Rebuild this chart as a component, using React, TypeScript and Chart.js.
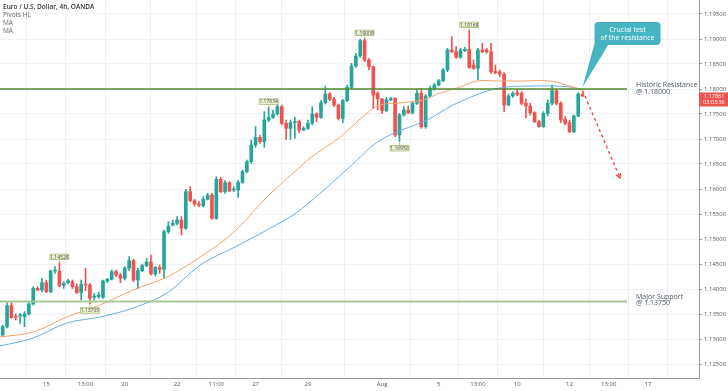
import React, { useEffect, useRef } from 'react';
import { Chart, registerables } from 'chart.js';
Chart.register(...registerables);

const opens = [
  1.1308, 1.13247, 1.13667, 1.13447, 1.1346, 1.13447, 1.135, 1.137, 1.14013, 1.1398,
  1.14127, 1.13947, 1.1436, 1.1436, 1.14073, 1.14127, 1.14147, 1.14047, 1.13927, 1.14093,
  1.1408, 1.13833, 1.13847, 1.13833, 1.1416, 1.14193, 1.14347, 1.1428, 1.14213, 1.14413,
  1.14567, 1.1418, 1.14367, 1.14467, 1.1454, 1.143, 1.14433, 1.14393, 1.15147, 1.1528,
  1.15313, 1.1538, 1.15213, 1.15947, 1.15767, 1.157, 1.15667, 1.15793, 1.1588, 1.15413,
  1.16193, 1.15947, 1.16127, 1.1598, 1.1598, 1.16133, 1.16347, 1.16547, 1.1688, 1.17033,
  1.16947, 1.1738, 1.17433, 1.175, 1.17647, 1.17313,
  1.17213, 1.17327, 1.17347, 1.1718, 1.17213, 1.17313, 1.175, 1.17433, 1.17727, 1.179,
  1.17793, 1.1768, 1.17413, 1.17767, 1.18033, 1.1846, 1.1866, 1.18967, 1.1858, 1.18447,
  1.17913, 1.178, 1.17567, 1.17787, 1.17813, 1.1708, 1.1748, 1.1758, 1.1752, 1.17713,
  1.17913, 1.17247, 1.1786, 1.18013, 1.1808, 1.18167, 1.1838, 1.1878, 1.18747, 1.18633,
  1.18767, 1.18793, 1.1848, 1.18413, 1.1878, 1.1878, 1.18747, 1.18347, 1.1834, 1.183,
  1.1768, 1.1786, 1.17927, 1.17913, 1.17713, 1.1766, 1.17527, 1.17347, 1.17247, 1.17513,
  1.17713, 1.17967, 1.17713, 1.17393, 1.17327, 1.17147, 1.1746, 1.17893,
];

const highs = [
  1.1328, 1.13727, 1.13727, 1.135, 1.13513, 1.13547, 1.13747, 1.14047, 1.14047, 1.14213,
  1.1418, 1.1438, 1.14447, 1.14528, 1.14147, 1.14193, 1.1418, 1.141, 1.1418, 1.14413,
  1.14113, 1.13913, 1.1394, 1.1418, 1.14213, 1.1438, 1.1438, 1.14313, 1.14447, 1.14647,
  1.14593, 1.14413, 1.145, 1.14613, 1.1468, 1.14447, 1.1448, 1.1518, 1.15347, 1.1538,
  1.15447, 1.15447, 1.15993, 1.16047, 1.15793, 1.15747, 1.15847, 1.15913, 1.15913, 1.16247,
  1.16233, 1.16167, 1.16147, 1.16047, 1.16167, 1.1638, 1.1658, 1.1698, 1.17247, 1.1708,
  1.17547, 1.17634, 1.1758, 1.17713, 1.1768, 1.1738,
  1.1738, 1.17433, 1.1738, 1.17247, 1.1738, 1.17647, 1.17527, 1.17767, 1.1806, 1.17927,
  1.17833, 1.177, 1.17793, 1.1808, 1.18513, 1.18713, 1.18993, 1.19008, 1.18613, 1.1846,
  1.17947, 1.17813, 1.17833, 1.17833, 1.17827, 1.17513, 1.17647, 1.1766, 1.17747, 1.1798,
  1.18013, 1.17887, 1.1806, 1.18113, 1.18193, 1.18413, 1.18813, 1.19047, 1.18847, 1.18813,
  1.18833, 1.19168, 1.1858, 1.18813, 1.18913, 1.18813, 1.18913, 1.1848, 1.1838, 1.18327,
  1.179, 1.17947, 1.1798, 1.17947, 1.178, 1.17713, 1.17547, 1.1738, 1.17547, 1.1778,
  1.1808, 1.17993, 1.17747, 1.17447, 1.1738, 1.1748, 1.17927, 1.1792,
];

const lows = [
  1.13047, 1.1322, 1.13413, 1.1338, 1.13313, 1.13247, 1.1348, 1.1368, 1.13967, 1.1394,
  1.13927, 1.13927, 1.14313, 1.14047, 1.14013, 1.141, 1.14013, 1.13913, 1.1378, 1.13967,
  1.13705, 1.1378, 1.13813, 1.13813, 1.14127, 1.1418, 1.14247, 1.14127, 1.1418, 1.14367,
  1.14147, 1.14013, 1.14347, 1.14447, 1.1428, 1.1426, 1.14313, 1.14213, 1.15113, 1.1526,
  1.1528, 1.1508, 1.15193, 1.15747, 1.1566, 1.15647, 1.15647, 1.1578, 1.15393, 1.15393,
  1.15927, 1.15913, 1.15947, 1.15947, 1.15833, 1.16113, 1.16327, 1.16513, 1.16833, 1.16913,
  1.16833, 1.17347, 1.17413, 1.1748, 1.1728, 1.16993,
  1.16993, 1.17013, 1.17127, 1.17167, 1.17193, 1.1728, 1.17347, 1.17413, 1.177, 1.17767,
  1.17647, 1.1738, 1.17327, 1.17747, 1.18013, 1.18433, 1.18633, 1.18547, 1.1838, 1.17613,
  1.1758, 1.17513, 1.17547, 1.17767, 1.17047, 1.1695, 1.1746, 1.17513, 1.175, 1.17693,
  1.17213, 1.17213, 1.1784, 1.1798, 1.1806, 1.18147, 1.18347, 1.18727, 1.18613, 1.18613,
  1.18747, 1.18413, 1.18393, 1.1818, 1.18727, 1.18713, 1.18313, 1.183, 1.18247, 1.17547,
  1.17667, 1.17833, 1.1786, 1.1768, 1.1742, 1.1748, 1.17327, 1.17233, 1.17233, 1.1746,
  1.1768, 1.1768, 1.17327, 1.1728, 1.17127, 1.17127, 1.17447, 1.17847,
];

const closes = [
  1.13247, 1.13667, 1.13427, 1.1343, 1.1347, 1.135, 1.137, 1.14013, 1.1398, 1.14127,
  1.13947, 1.1436, 1.14367, 1.1406, 1.14113, 1.14167, 1.14047, 1.13927, 1.14093, 1.1408,
  1.13813, 1.1386, 1.1388, 1.1416, 1.14193, 1.14347, 1.1428, 1.14213, 1.14413, 1.14567,
  1.1418, 1.14367, 1.14467, 1.1454, 1.143, 1.14433, 1.14393, 1.15147, 1.1526, 1.15313,
  1.1538, 1.15213, 1.15947, 1.15767, 1.157, 1.1568, 1.15793, 1.1588, 1.15413, 1.16193,
  1.15947, 1.16127, 1.1596, 1.15993, 1.16133, 1.16347, 1.16547, 1.1688, 1.17033, 1.16947,
  1.1738, 1.17433, 1.175, 1.17647, 1.17313, 1.17213,
  1.17327, 1.1734, 1.1718, 1.17213, 1.17313, 1.175, 1.17433, 1.17727, 1.179, 1.17793,
  1.1768, 1.17413, 1.17767, 1.18033, 1.1846, 1.1866, 1.18967, 1.1858, 1.18447, 1.1788,
  1.178, 1.17567, 1.17787, 1.17813, 1.1708, 1.1748, 1.1758, 1.1752, 1.17713, 1.17913,
  1.17247, 1.1786, 1.18013, 1.1808, 1.18167, 1.1838, 1.1878, 1.18747, 1.18633, 1.1878,
  1.18793, 1.18433, 1.18413, 1.1878, 1.18747, 1.18747, 1.18347, 1.18327, 1.183, 1.1768,
  1.1786, 1.17913, 1.17893, 1.17713, 1.1766, 1.17527, 1.17347, 1.17247, 1.17513, 1.17713,
  1.17967, 1.17713, 1.1738, 1.17313, 1.17147, 1.1746, 1.179, 1.17861,
];

// Moving averages sampled along the bar index axis
const maFastIdx = [-0.6, 7, 14.7, 22.3, 29.9, 37.7, 45.3, 52.8, 60.6, 68.2, 70.5, 77.4, 83.6, 86.5, 91.1, 96.4, 100.3, 104.2, 108.8, 113.4, 119.3, 125.5, 130.8, 133.1];
const maFastVal = [1.1304, 1.1314, 1.1344, 1.1368, 1.1398, 1.1424, 1.1464, 1.1512, 1.1584, 1.1644, 1.1662, 1.1704, 1.1752, 1.1768, 1.1772, 1.1778, 1.1792, 1.1802, 1.1816, 1.1816, 1.1816, 1.1816, 1.1804, 1.1798];
const maSlowIdx = [-0.6, 7, 14.7, 22.3, 29.9, 37.7, 45.3, 52.8, 60.6, 68.2, 81.3, 85, 88.8, 97.3, 103.3, 111.1, 115.7, 120.9, 126.2, 130.1, 133.1];
const maSlowVal = [1.1286, 1.1302, 1.1332, 1.1344, 1.1362, 1.1392, 1.1448, 1.1482, 1.1518, 1.1558, 1.1658, 1.1688, 1.1708, 1.1738, 1.1768, 1.1796, 1.1804, 1.1806, 1.1806, 1.1804, 1.1798];

const priceTicks = [1.125, 1.13, 1.135, 1.14, 1.145, 1.15, 1.155, 1.16, 1.165, 1.17, 1.175, 1.18, 1.185, 1.19, 1.195];
const timeTickIdx = [10, 19, 28, 40, 49, 58, 70, 87, 100, 109, 118, 130, 139, 148];
const timeTickLabels = ['15', '13:00', '20', '22', '11:00', '27', '29', 'Aug', '5', '13:00', '10', '12', '13:00', '17'];

const resistanceLevel = 1.18;
const supportLevel = 1.1375;
const levelEndIdx = 143.2;
const pivotIdx = [13, 20, 61, 83, 91, 107];
const pivotPrice = [1.14528, 1.13705, 1.17634, 1.19008, 1.1695, 1.19168];
const pivotIsHigh = [true, false, true, true, false, true];
const pivotText = ['1.14528', '1.13705', '1.17634', '1.19008', '1.16950', '1.19168'];
const arrowFrom = [133, 1.1797];
const arrowTo = [141.6, 1.1622];
const calloutTarget = [133, 1.1804];
const calloutCenter = [143.3, 1.1911];
const calloutLines = ['Crucial test', 'of the resistance'];
const countdown = '03:03:36';

const UP = '#26a69a';
const DOWN = '#ef5350';
const FONT = '"Open Sans", "Noto Sans", sans-serif';

const overlayPlugin = {
  id: 'overlay',
  afterDatasetsDraw(chart: any) {
    const { ctx, chartArea } = chart;
    const xs = chart.scales.x;
    const ys = chart.scales.y;
    const X = (v: number) => xs.getPixelForValue(v);
    const Y = (v: number) => ys.getPixelForValue(v);
    ctx.save();

    // Support / resistance
    const xEnd = X(levelEndIdx);
    ctx.lineWidth = 2;
    ctx.strokeStyle = '#aac79a';
    ctx.beginPath();
    ctx.moveTo(chartArea.left, Y(supportLevel));
    ctx.lineTo(xEnd, Y(supportLevel));
    ctx.stroke();
    ctx.lineWidth = 1.3;
    ctx.strokeStyle = '#4f8a2c';
    ctx.beginPath();
    ctx.moveTo(chartArea.left, Y(resistanceLevel));
    ctx.lineTo(xEnd, Y(resistanceLevel));
    ctx.stroke();

    ctx.fillStyle = '#4a5666';
    ctx.font = `7px ${FONT}`;
    ctx.textAlign = 'left';
    ctx.textBaseline = 'middle';
    const lx = xEnd + 9;
    ctx.fillText('Historic Resistance', lx, Y(resistanceLevel) - 4.5);
    ctx.fillText('@ 1.' + resistanceLevel.toFixed(5).slice(2), lx, Y(resistanceLevel) + 3);
    ctx.fillText('Major Support', lx, Y(supportLevel) - 4.5);
    ctx.fillText('@ 1.' + supportLevel.toFixed(5).slice(2), lx, Y(supportLevel) + 1.5);

    // Pivot labels
    ctx.font = `5px ${FONT}`;
    ctx.textAlign = 'center';
    pivotIdx.forEach((pi, k) => {
      const px = X(pi);
      const py = Y(pivotPrice[k]);
      const w = 19, h = 5.5;
      const top = pivotIsHigh[k] ? py - 3 - h : py + 4;
      ctx.strokeStyle = '#9bb56a';
      ctx.lineWidth = 0.7;
      ctx.beginPath();
      ctx.moveTo(px, pivotIsHigh[k] ? top + h : top);
      ctx.lineTo(px, py);
      ctx.stroke();
      ctx.fillStyle = '#eaf4cf';
      ctx.fillRect(px - w / 2, top, w, h);
      ctx.strokeRect(px - w / 2, top, w, h);
      ctx.fillStyle = '#444';
      ctx.fillText(pivotText[k], px, top + h / 2 + 0.3);
    });

    // Dashed arrow
    const ax0 = X(arrowFrom[0]), ay0 = Y(arrowFrom[1]);
    const ax1 = X(arrowTo[0]), ay1 = Y(arrowTo[1]);
    ctx.strokeStyle = '#f04a4a';
    ctx.lineWidth = 1.4;
    ctx.setLineDash([3, 3]);
    ctx.beginPath();
    ctx.moveTo(ax0, ay0);
    ctx.lineTo(ax1, ay1);
    ctx.stroke();
    ctx.setLineDash([]);
    const ang = Math.atan2(ay1 - ay0, ax1 - ax0);
    const hl = 5;
    ctx.beginPath();
    ctx.moveTo(ax1 - hl * Math.cos(ang - 0.5), ay1 - hl * Math.sin(ang - 0.5));
    ctx.lineTo(ax1, ay1);
    ctx.lineTo(ax1 - hl * Math.cos(ang + 0.5), ay1 - hl * Math.sin(ang + 0.5));
    ctx.stroke();

    // Callout
    const cx = X(calloutCenter[0]), cy = Y(calloutCenter[1]);
    const bw = 66, bh = 23;
    const bx = cx - bw / 2, by = cy - bh / 2;
    const tx = X(calloutTarget[0]), ty = Y(calloutTarget[1]);
    ctx.fillStyle = '#46b4c1';
    ctx.beginPath();
    ctx.moveTo(bx + 1, by + bh - 5);
    ctx.lineTo(bx + 14, by + bh - 0.5);
    ctx.lineTo(tx, ty);
    ctx.closePath();
    ctx.fill();
    ctx.beginPath();
    (ctx as any).roundRect(bx, by, bw, bh, 4);
    ctx.fill();
    ctx.fillStyle = '#ffffff';
    ctx.font = `7px ${FONT}`;
    ctx.textAlign = 'center';
    ctx.fillText(calloutLines[0], cx, cy - 3.5);
    ctx.fillText(calloutLines[1], cx, cy + 4);

    ctx.restore();
  },
  afterDraw(chart: any) {
    const { ctx, chartArea } = chart;
    const ys = chart.scales.y;
    ctx.save();
    // Legend text
    ctx.textAlign = 'left';
    ctx.textBaseline = 'middle';
    ctx.fillStyle = '#333';
    ctx.font = `600 6.5px ${FONT}`;
    ctx.fillText('Euro / U.S. Dollar, 4h, OANDA', 3, 7);
    ctx.fillStyle = '#666';
    ctx.font = `6.5px ${FONT}`;
    ctx.fillText('Pivots HL', 3, 15);
    ctx.fillText('MA', 3, 23);
    ctx.fillText('MA', 3, 31);

    // Price tag
    const last = closes[closes.length - 1];
    const py = ys.getPixelForValue(last);
    const x0 = chartArea.right;
    ctx.fillStyle = DOWN;
    ctx.fillRect(x0, py - 3.5, 29, 14);
    ctx.fillStyle = '#fff';
    ctx.font = `5.5px ${FONT}`;
    ctx.fillText(last.toFixed(5), x0 + 5, py);
    ctx.fillText(countdown, x0 + 4, py + 6.5);
    ctx.restore();
  },
};

export default function App() {
  const ref = useRef<HTMLCanvasElement | null>(null);
  useEffect(() => {
    document.body.style.margin = '0';
    if (!ref.current) return;
    const idx = opens.map((_, i) => i);
    const colorOf = (i: number) => (closes[i] >= opens[i] ? UP : DOWN);
    const chart = new Chart(ref.current, {
      type: 'bar',
      data: {
        datasets: [
          {
            type: 'line',
            data: maFastIdx.map((v, i) => ({ x: v, y: maFastVal[i] })),
            borderColor: '#f6a36b',
            borderWidth: 1,
            pointRadius: 0,
            tension: 0.35,
            order: 1,
          } as any,
          {
            type: 'line',
            data: maSlowIdx.map((v, i) => ({ x: v, y: maSlowVal[i] })),
            borderColor: '#69aee6',
            borderWidth: 1,
            pointRadius: 0,
            tension: 0.35,
            order: 2,
          } as any,
          {
            type: 'bar',
            data: idx.map((i) => ({ x: i, y: [lows[i], highs[i]] })),
            backgroundColor: idx.map(colorOf),
            barThickness: 1,
            grouped: false,
            order: 4,
          } as any,
          {
            type: 'bar',
            data: idx.map((i) => ({ x: i, y: [opens[i], closes[i]] })),
            backgroundColor: idx.map(colorOf),
            barThickness: 3,
            minBarLength: 1,
            grouped: false,
            order: 3,
          } as any,
        ],
      },
      options: {
        animation: false,
        responsive: false,
        maintainAspectRatio: false,
        layout: { padding: 0 },
        plugins: { legend: { display: false }, tooltip: { enabled: false } },
        scales: {
          x: {
            type: 'linear',
            min: -0.62,
            max: 159.7,
            offset: false,
            afterBuildTicks: (axis: any) => {
              axis.ticks = timeTickIdx.map((v) => ({ value: v }));
            },
            afterFit: (axis: any) => {
              axis.height = 13;
              axis.paddingLeft = 0;
              axis.paddingRight = 0;
            },
            ticks: {
              autoSkip: false,
              maxRotation: 0,
              padding: 3,
              color: '#555',
              font: { family: FONT, size: 6 },
              callback: (_v: any, i: number) => timeTickLabels[i],
            },
            grid: { color: '#eef1f6', drawTicks: false },
            border: { color: '#9a9a9a' },
          },
          y: {
            type: 'linear',
            position: 'right',
            min: 1.1222,
            max: 1.1978,
            afterBuildTicks: (axis: any) => {
              axis.ticks = priceTicks.map((v) => ({ value: v }));
            },
            afterFit: (axis: any) => {
              axis.width = 29;
              axis.paddingTop = 0;
              axis.paddingBottom = 0;
            },
            ticks: {
              padding: 2,
              color: '#555',
              font: { family: FONT, size: 6 },
              callback: (v: any) => Number(v).toFixed(5),
            },
            grid: { color: '#eef1f6', tickLength: 3, tickColor: '#9a9a9a' },
            border: { color: '#9a9a9a' },
          },
        },
      },
      plugins: [overlayPlugin],
    });
    return () => chart.destroy();
  }, []);
  return (
    <div style={{ width: 728, height: 391 }}>
      <canvas ref={ref} width={728} height={391} />
    </div>
  );
}
